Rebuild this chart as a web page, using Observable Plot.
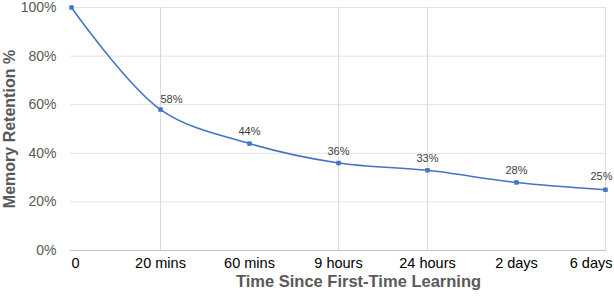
<!DOCTYPE html>
<html>
<head>
<meta charset="utf-8">
<script src="https://cdn.jsdelivr.net/npm/d3@7"></script>
<script src="https://cdn.jsdelivr.net/npm/@observablehq/plot@0.6"></script>
<style>
  html, body { margin: 0; padding: 0; background: #fff; }
  #chart { width: 614px; height: 296px; }
</style>
</head>
<body>
<div id="chart"></div>
<script>
const categories = ["0", "20 mins", "60 mins", "9 hours", "24 hours", "2 days", "6 days"];
const retention = [100, 58, 44, 36, 33, 28, 25];
const yTicks = [0, 20, 40, 60, 80, 100];
const gridCategories = ["20 mins", "9 hours", "24 hours", "6 days"];

const data = categories.map((c, i) => ({ t: c, v: retention[i] }));
const first = categories[0];
const last = categories[categories.length - 1];
const middleCats = categories.slice(1, -1);

const lbl = d => d.v + "%";
const labelsMid = data.filter(d => d.t !== first && d.t !== last && d.t !== "20 mins");
const labelsShift = data.filter(d => d.t === "20 mins");
const labelsLast = data.filter(d => d.t === last);

const font = "'Liberation Sans', Arial, sans-serif";

const chart = Plot.plot({
  width: 614,
  height: 296,
  marginLeft: 70,
  marginRight: 8,
  marginTop: 7,
  marginBottom: 46,
  style: { fontFamily: font, background: "#fff" },
  x: { type: "point", domain: categories, padding: 0, label: null, axis: null },
  y: { domain: [0, 100], label: null },
  marks: [
    Plot.ruleY(yTicks.filter(d => d > 0), { stroke: "#e3e3e3", strokeWidth: 1 }),
    Plot.ruleX(gridCategories, { stroke: "#d9d9d9", strokeWidth: 1 }),
    Plot.ruleY([0], { stroke: "#c4c4c4", strokeWidth: 1 }),
    Plot.axisY({
      ticks: yTicks, tickFormat: d => d + "%", tickSize: 0, tickPadding: 14,
      fontSize: 14, fill: "#595959", label: null
    }),
    // x tick labels
    Plot.text(middleCats, { x: d => d, frameAnchor: "bottom", dy: 17, text: d => d, fontSize: 14.5, fill: "#000" }),
    Plot.text([first], { x: d => d, frameAnchor: "bottom", dy: 17, text: d => d, fontSize: 14.5, fill: "#000", textAnchor: "start" }),
    Plot.text([last], { x: d => d, frameAnchor: "bottom", dy: 17, dx: 7, text: d => d, fontSize: 14.5, fill: "#000", textAnchor: "end" }),
    Plot.line(data, { x: "t", y: "v", stroke: "#4472c4", strokeWidth: 1.5, curve: "catmull-rom" }),
    Plot.dot(data, { x: "t", y: "v", fill: "#4472c4", r: 2.5, symbol: "square" }),
    Plot.text(labelsMid, { x: "t", y: "v", text: lbl, dy: -12, fontSize: 11, fill: "#404040" }),
    Plot.text(labelsShift, { x: "t", y: "v", text: lbl, dx: 11, dy: -10, fontSize: 11, fill: "#404040" }),
    Plot.text(labelsLast, { x: "t", y: "v", text: lbl, dx: 7, dy: -13, fontSize: 11, fill: "#404040", textAnchor: "end" }),
    Plot.text(["Time Since First-Time Learning"], {
      frameAnchor: "bottom", dy: 36, dx: 20, text: d => d, fontSize: 16.5, fontWeight: "bold", fill: "#595959"
    }),
    Plot.text(["Memory Retention %"], {
      frameAnchor: "left", dx: -61, text: d => d, rotate: -90, textAnchor: "middle",
      fontSize: 16, fontWeight: "bold", fill: "#595959"
    })
  ]
});
document.getElementById("chart").appendChild(chart);
</script>
</body>
</html>
